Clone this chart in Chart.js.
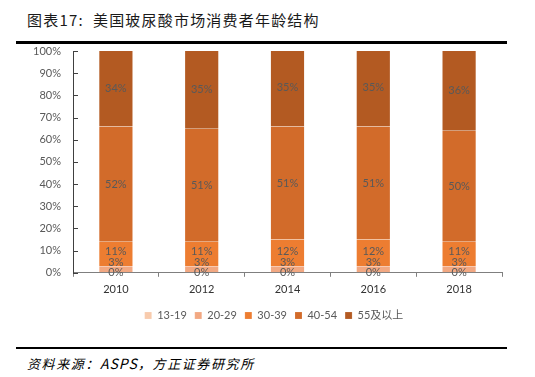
<!DOCTYPE html>
<html>
<head>
<meta charset="utf-8">
<script src="https://cdn.jsdelivr.net/npm/chart.js"></script>
<style>
  body { margin: 0; background: #fff; }
  #wrap { position: relative; width: 535px; height: 377px; overflow: hidden; }
  .title { position: absolute; left: 27px; top: 9px; font: 15px "Noto Sans CJK SC", sans-serif; color: #1a1a1a; letter-spacing: 1.2px; white-space: nowrap; }
  .rule { position: absolute; left: 16px; width: 491px; background: #000; }
  .source { position: absolute; left: 27px; top: 353px; font: italic 13px "Noto Sans CJK SC", sans-serif; color: #000; letter-spacing: 1.6px; white-space: nowrap; }
  .source b { font-weight: normal; font-size: 14px; letter-spacing: 1px; }
  #box { position: absolute; left: 0; top: 40px; width: 535px; height: 300px; }
</style>
</head>
<body>
<div id="wrap">
  <div class="title">图表17:&nbsp;&nbsp;美国玻尿酸市场消费者年龄结构</div>
  <div class="rule" style="top:41px;height:3px"></div>
  <div id="box"><canvas id="bar"></canvas></div>
  <div class="rule" style="top:347px;height:2px"></div>
  <div class="source">资料来源：<b>ASPS</b>，方正证券研究所</div>
</div>
<script>
// years on the x axis
const years = ["2010", "2012", "2014", "2016", "2018"];
// share of consumers by age group (%)
const age13to19 = [0, 0, 0, 0, 0];
const age20to29 = [3, 3, 3, 3, 3];
const age30to39 = [11, 11, 12, 12, 11];
const age40to54 = [52, 51, 51, 51, 50];
const age55plus = [34, 35, 35, 35, 36];
const groupNames = ["13-19", "20-29", "30-39", "40-54", "55及以上"];
const groupColors = ["#f8cbad", "#f2a882", "#ed7d31", "#d26b2a", "#b35a22"];

const labelFont = "11px Lato, 'Liberation Sans', sans-serif";

// value labels in the middle of each segment, nudged up when they collide
const segmentLabels = {
  id: "segmentLabels",
  afterDatasetsDraw(chart) {
    const ctx = chart.ctx;
    ctx.save();
    ctx.font = labelFont;
    ctx.fillStyle = "#595959";
    ctx.textAlign = "center";
    ctx.textBaseline = "middle";
    const h = 10.5;
    years.forEach((y, i) => {
      let lastTop = Infinity;
      chart.data.datasets.forEach((ds, d) => {
        const el = chart.getDatasetMeta(d).data[i];
        let cy = (el.y + el.base) / 2;
        if (cy + h / 2 > lastTop) cy = lastTop - h / 2;
        ctx.fillText(ds.data[i] + "%", el.x, cy);
        lastTop = cy - h / 2;
      });
    });
    ctx.restore();
  }
};

// small tick marks on the inner side of the y axis
const innerTicks = {
  id: "innerTicks",
  afterDraw(chart) {
    const ctx = chart.ctx;
    const s = chart.scales.y;
    ctx.save();
    ctx.strokeStyle = "#404040";
    ctx.lineWidth = 1;
    s.ticks.forEach((t, i) => {
      const py = Math.round(s.getPixelForTick(i)) + 0.5;
      ctx.beginPath();
      ctx.moveTo(s.right, py);
      ctx.lineTo(s.right + 5, py);
      ctx.stroke();
    });
    ctx.restore();
  }
};

// legend sits a bit right of the canvas centre in the original
const legendShift = {
  id: "legendShift",
  afterLayout(chart) {
    chart.legend.left += 23;
    chart.legend.right += 23;
  }
};

const series = [age13to19, age20to29, age30to39, age40to54, age55plus];

new Chart(document.getElementById("bar"), {
  type: "bar",
  data: {
    labels: years,
    datasets: series.map((vals, k) => ({
      label: groupNames[k],
      data: vals,
      backgroundColor: groupColors[k],
      borderColor: "rgba(255,255,255,0.3)",
      borderWidth: { left: 1, right: 1, top: 0, bottom: 0 },
      borderSkipped: false,
      categoryPercentage: 1,
      barPercentage: 0.41
    }))
  },
  options: {
    responsive: true,
    maintainAspectRatio: false,
    animation: false,
    layout: { padding: { left: 0, right: 33, top: 11, bottom: 9 } },
    plugins: {
      tooltip: { enabled: false },
      legend: {
        position: "bottom",
        labels: {
          boxWidth: 7,
          boxHeight: 7,
          padding: 8,
          color: "#595959",
          font: { family: "Lato, 'Noto Sans CJK SC', sans-serif", size: 11 }
        }
      }
    },
    scales: {
      x: {
        stacked: true,
        grid: { display: true, drawOnChartArea: false, offset: true, drawTicks: true, tickLength: 4, color: "#7f7f7f" },
        border: { display: true, color: "#7f7f7f", width: 1 },
        ticks: { color: "#333", padding: 6, font: { family: "Lato, sans-serif", size: 11 } }
      },
      y: {
        stacked: true,
        min: 0,
        max: 100,
        afterFit: s => { s.width = 73; },
        grid: { display: true, drawOnChartArea: false, drawTicks: true, tickLength: 12, color: "rgba(0,0,0,0)" },
        border: { display: true, color: "#404040", width: 1 },
        ticks: {
          stepSize: 10,
          padding: 0,
          color: "#595959",
          font: { family: "Lato, sans-serif", size: 11 },
          callback: v => v + "%"
        }
      }
    }
  },
  plugins: [segmentLabels, innerTicks, legendShift]
});
</script>
</body>
</html>
